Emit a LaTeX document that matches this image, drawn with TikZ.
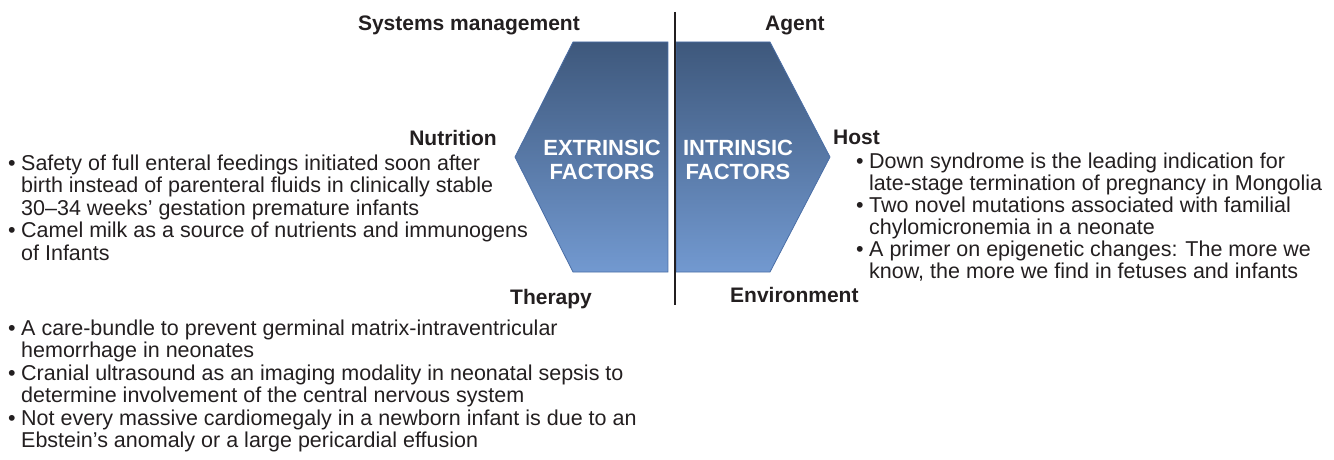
\documentclass[tikz,border=0pt]{standalone}
\usepackage{fontspec}
\setmainfont{Liberation Sans}

\definecolor{ink}{HTML}{231F20}
\definecolor{hextop}{HTML}{3E587C}
\definecolor{hexmid}{HTML}{46628B}
\definecolor{hexbot}{HTML}{7299D0}
\definecolor{hexedge}{HTML}{4A6EA6}

% bullet and matching indent for wrapped lines
\newcommand{\bul}{\makebox[13pt][l]{•}}
\newcommand{\cnt}{\hspace*{13pt}}

\begin{document}
\begin{tikzpicture}[x=1pt,y=-1pt,
  heading/.style={font=\fontsize{21}{24}\selectfont\bfseries, text=ink, inner sep=0pt},
  bodytext/.style={font=\fontsize{21.5}{22.5}\selectfont, text=ink, inner sep=0pt, anchor=base west},
  bodytextR/.style={bodytext, font=\fontsize{21.5}{21.9}\selectfont},
  facet/.style={draw=hexedge, line width=0.8pt, top color=hextop, middle color=hexmid, bottom color=hexbot},
  facetlabel/.style={font=\fontsize{22}{24}\selectfont\bfseries, text=white, inner sep=0pt, anchor=base},
  divider/.style={draw=ink, line width=2.8pt}]
\useasboundingbox (0,0) rectangle (1334,460);

% two halves of the hexagon
\path[facet] (573,42) -- (668,42) -- (668,272) -- (573,272) -- (515,157) -- cycle;
\path[facet] (676,42) -- (770,42) -- (830,157) -- (770,272) -- (676,272) -- cycle;

\node[facetlabel] (extrinsic) at (602,155)
  {\begin{tabular}[t]{@{}c@{}}EXTRINSIC\\FACTORS\end{tabular}};
\node[facetlabel] (intrinsic) at (738,155)
  {\begin{tabular}[t]{@{}c@{}}INTRINSIC\\FACTORS\end{tabular}};

% central divider
\coordinate (divtop) at (675,12);
\coordinate (divbot) at (675,305);
\draw[divider] (divtop) -- (divbot);

% headings around the hexagon
\node[heading, anchor=base east] (sysmgmt) at (580,31) {Systems management};
\node[heading, anchor=base west] (agent) at (765,31) {Agent};
\node[heading, anchor=base east] (nutrition) at (497,145) {Nutrition};
\node[heading, anchor=base west] (host) at (833,144) {Host};
\node[heading, anchor=base west] (therapy) at (510,304) {Therapy};
\node[heading, anchor=base west] (environment) at (730,302) {Environment};

% bullet lists
\node[bodytext] (nutritionlist) at (8,170) {\begin{tabular}[t]{@{}l@{}}
\bul Safety of full enteral feedings initiated soon after\\
\cnt birth instead of parenteral fluids in clinically stable\\
\cnt 30–34 weeks’ gestation premature infants\\
\bul Camel milk as a source of nutrients and immunogens\\
\cnt of Infants
\end{tabular}};

\node[bodytextR] (hostlist) at (856,168) {\begin{tabular}[t]{@{}l@{}}
\bul Down syndrome is the leading indication for\\
\cnt late-stage termination of pregnancy in Mongolia\\
\bul Two novel mutations associated with familial\\
\cnt chylomicronemia in a neonate\\
\bul A primer on epigenetic changes: The more we\\
\cnt know, the more we find in fetuses and infants
\end{tabular}};

\node[bodytext] (therapylist) at (8,335) {\begin{tabular}[t]{@{}l@{}}
\bul A care-bundle to prevent germinal matrix-intraventricular\\
\cnt hemorrhage in neonates\\
\bul Cranial ultrasound as an imaging modality in neonatal sepsis to\\
\cnt determine involvement of the central nervous system\\
\bul Not every massive cardiomegaly in a newborn infant is due to an\\
\cnt Ebstein’s anomaly or a large pericardial effusion
\end{tabular}};
\end{tikzpicture}
\end{document}
